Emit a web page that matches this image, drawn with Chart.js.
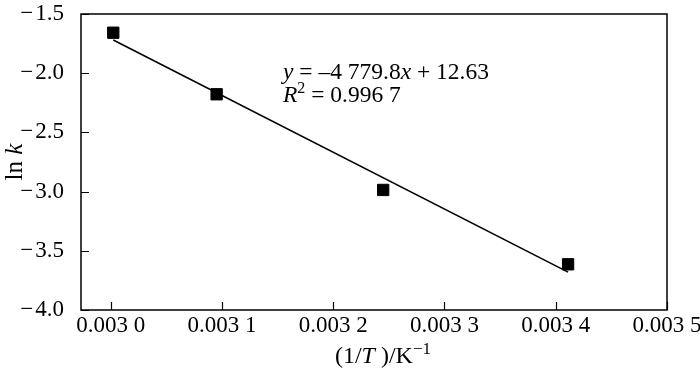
<!DOCTYPE html>
<html>
<head>
<meta charset="utf-8">
<script src="https://cdn.jsdelivr.net/npm/chart.js@4"></script>
<style>
  html, body { margin: 0; padding: 0; background: #fff; }
  #wrap { width: 700px; height: 373px; }
</style>
</head>
<body>
<div id="wrap"><canvas id="lnkChart"></canvas></div>
<script>
// measured points, 1/T (K^-1) vs ln k
const invT = [0.0030023, 0.0030952, 0.0032449, 0.0034111];
const lnK = [-1.658, -2.178, -2.986, -3.614];
// ends of the fitted line
const fitX = [0.0030023, 0.0034111];
const fitY = [-1.72, -3.68];
const xTicks = [0.0030, 0.0031, 0.0032, 0.0033, 0.0034, 0.0035];
const yTicks = [-1.5, -2.0, -2.5, -3.0, -3.5, -4.0];

const FONT = '"Liberation Serif", "Times New Roman", serif';
const TICK = 23;

function setFont(ctx, style, size) {
  const sup = style === 'sup';
  ctx.font = (style === 'i' ? 'italic ' : '') + (sup ? Math.round(size * 0.7) : size) + 'px ' + FONT;
}
function drawRuns(ctx, runs, x, y, size) {
  runs.forEach(([t, style]) => {
    setFont(ctx, style, size);
    ctx.fillText(t, x, style === 'sup' ? y - size * 0.38 : y);
    x += ctx.measureText(t).width;
  });
}
function runsWidth(ctx, runs, size) {
  let w = 0;
  runs.forEach(([t, style]) => { setFont(ctx, style, size); w += ctx.measureText(t).width; });
  return w;
}

const frame = {
  id: 'frame',
  afterDraw(chart) {
    const { ctx, chartArea: a, scales: { x, y } } = chart;
    ctx.save();
    ctx.strokeStyle = '#000';
    ctx.lineWidth = 1.5;
    ctx.strokeRect(a.left, a.top, a.right - a.left, a.bottom - a.top);
    // inward ticks
    ctx.beginPath();
    xTicks.forEach(v => {
      const px = Math.round(x.getPixelForValue(v)) + 0.5;
      ctx.moveTo(px, a.bottom); ctx.lineTo(px, a.bottom - 8);
    });
    yTicks.forEach(v => {
      const py = Math.round(y.getPixelForValue(v)) + 0.5;
      ctx.moveTo(a.left, py); ctx.lineTo(a.left + 8, py);
    });
    ctx.lineWidth = 1.2;
    ctx.stroke();

    ctx.fillStyle = '#000';
    ctx.textBaseline = 'alphabetic';
    ctx.textAlign = 'left';
    // fit equation
    drawRuns(ctx, [['y', 'i'], [' = \u2013', ''], ['4 779.8', ''], ['x', 'i'], [' + 12.63', '']], 283, 79, 23.5);
    drawRuns(ctx, [['R', 'i'], ['2', 'sup'], [' = 0.996 7', '']], 283, 102, 23.5);

    // x title
    const xt = [['(1/', ''], ['T', 'i'], [' )/K', ''], ['\u22121', 'sup']];
    const xw = runsWidth(ctx, xt, 24);
    drawRuns(ctx, xt, 383 - xw / 2, 363, 24);

    // y title
    const yt = [['ln ', ''], ['k', 'i']];
    const yw = runsWidth(ctx, yt, 25);
    ctx.translate(22, 162);
    ctx.rotate(-Math.PI / 2);
    drawRuns(ctx, yt, -yw / 2, 0, 25);
    ctx.restore();
  }
};

new Chart(document.getElementById('lnkChart'), {
  type: 'scatter',
  data: {
    datasets: [
      {
        label: 'ln k',
        data: invT.map((v, i) => ({ x: v, y: lnK[i] })),
        pointStyle: 'rect',
        pointRadius: 8,
        pointBorderWidth: 1,
        backgroundColor: '#000',
        borderColor: '#000',
        order: 0,
      },
      {
        label: 'fit',
        data: fitX.map((v, i) => ({ x: v, y: fitY[i] })),
        showLine: true,
        pointRadius: 0,
        borderColor: '#000',
        borderWidth: 1.6,
        order: 1,
      },
    ],
  },
  options: {
    responsive: true,
    maintainAspectRatio: false,
    animation: false,
    layout: { padding: { top: 14, right: 33, left: 0, bottom: 0 } },
    plugins: {
      legend: { display: false },
      tooltip: { enabled: false },
    },
    scales: {
      x: {
        type: 'linear',
        min: 0.0029733,
        max: 0.0035,
        grid: { display: false },
        border: { display: false },
        afterBuildTicks: s => { s.ticks = xTicks.map(v => ({ value: v })); },
        afterFit: s => { s.height = 63; s.paddingLeft = 0; s.paddingRight = 0; },
        ticks: {
          color: '#000',
          padding: -6,
          maxRotation: 0,
          font: { family: FONT, size: TICK },
          callback: v => { const s = v.toFixed(4); return s.slice(0, 5) + ' ' + s.slice(5); },
        },
      },
      y: {
        min: -4.0,
        max: -1.5,
        grid: { display: false },
        border: { display: false },
        afterBuildTicks: s => { s.ticks = yTicks.map(v => ({ value: v })); },
        afterFit: s => { s.width = 81; s.paddingTop = 0; s.paddingBottom = 0; },
        ticks: {
          color: '#000',
          padding: 9,
          font: { family: FONT, size: TICK },
          callback: v => '\u2212\u200a' + Math.abs(v).toFixed(1),
        },
      },
    },
  },
  plugins: [frame],
});
</script>
</body>
</html>
